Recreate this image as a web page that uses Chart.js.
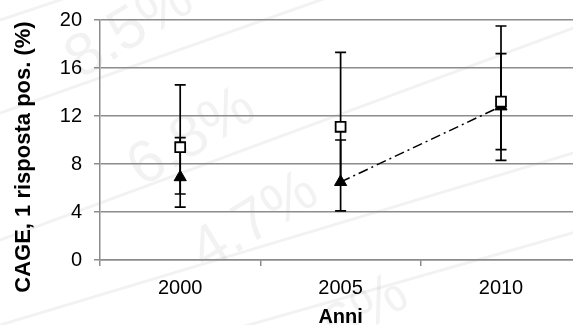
<!DOCTYPE html>
<html lang="it">
<head>
  <meta charset="UTF-8" />
  <title>CAGE, 1 risposta pos. (%)</title>
  <script src="https://cdn.jsdelivr.net/npm/chart.js"></script>
  <style>
    html, body { margin: 0; padding: 0; background: #fff; overflow: hidden; }
    #wrap { width: 573px; height: 325px; overflow: hidden; }
  </style>
</head>
<body>
  <div id="wrap"><canvas id="chart" width="590" height="325"></canvas></div>

  <script>
    // dati
    const anni = ['2000', '2005', '2010'];
    const quadrati = [9.4, 11.1, 13.2];
    const quadratiMin = [4.4, 4.1, 8.3];
    const quadratiMax = [14.6, 17.3, 19.5];
    const triangoli = [6.9, 6.5, 12.8];
    const triangoliMin = [5.5, null, 9.2];
    const triangoliMax = [10.2, 10.0, 17.2];
    const yMin = 0, yMax = 20, yStep = 4;
    const titoloY = 'CAGE, 1 risposta pos. (%)';
    const titoloX = 'Anni';
    const filigrana = ['8.5%', '6.8%', '4.7%', '6.6%'];

    const FONT = '"Liberation Sans", Arial, sans-serif';

    // sfondo con la filigrana sbiadita
    const sfondo = {
      id: 'sfondo',
      beforeDraw(chart) {
        const ctx = chart.ctx;
        ctx.save();
        ctx.fillStyle = '#fff';
        ctx.fillRect(0, 0, chart.width, chart.height);
        ctx.strokeStyle = 'rgba(0,0,0,0.05)';
        ctx.lineWidth = 3;
        [[0, 113, 590, -95], [0, 240, 590, 22], [0, 325, 590, 148], [238, 328, 590, 228], [0, 20, 300, -80]].forEach(l => {
          ctx.beginPath(); ctx.moveTo(l[0], l[1]); ctx.lineTo(l[2], l[3]); ctx.stroke();
        });
        ctx.fillStyle = 'rgba(0,0,0,0.05)';
        ctx.font = '60px ' + FONT;
        ctx.textAlign = 'center';
        ctx.textBaseline = 'middle';
        [[130, 30], [192, 138], [255, 222], [345, 325]].forEach((p, i) => {
          ctx.save();
          ctx.translate(p[0], p[1]);
          ctx.rotate(-0.55);
          ctx.fillText(filigrana[i], 0, 0);
          ctx.restore();
        });
        ctx.restore();
      }
    };

    // barre di errore sotto i marcatori
    const barreErrore = {
      id: 'barreErrore',
      beforeDatasetsDraw(chart) {
        const { ctx, scales: { x, y } } = chart;
        const limiti = [[quadratiMin, quadratiMax], [triangoliMin, triangoliMax]];
        ctx.save();
        ctx.strokeStyle = '#000';
        ctx.lineWidth = 1.7;
        limiti.forEach(([lo, hi], d) => {
          chart.data.datasets[d].data.forEach((v, i) => {
            const px = x.getPixelForValue(i);
            const pv = y.getPixelForValue(v);
            [lo[i], hi[i]].forEach(e => {
              if (e == null) return;
              const pe = y.getPixelForValue(e);
              ctx.beginPath();
              ctx.moveTo(px, pv); ctx.lineTo(px, pe);
              ctx.moveTo(px - 5.5, pe); ctx.lineTo(px + 5.5, pe);
              ctx.stroke();
            });
          });
        });
        ctx.restore();
      }
    };

    // titolo asse y (centrato sull'immagine come nell'originale)
    const titoloAsseY = {
      id: 'titoloAsseY',
      afterDraw(chart) {
        const ctx = chart.ctx;
        ctx.save();
        ctx.translate(24, 157);
        ctx.rotate(-Math.PI / 2);
        ctx.font = 'bold 22px ' + FONT;
        ctx.fillStyle = '#000';
        ctx.textAlign = 'center';
        ctx.textBaseline = 'middle';
        ctx.fillText(titoloY, 0, 0);
        ctx.restore();
      }
    };

    new Chart(document.getElementById('chart'), {
      type: 'line',
      data: {
        labels: anni,
        datasets: [
          {
            label: 'quadrati',
            data: quadrati,
            showLine: false,
            pointStyle: 'rect',
            pointRadius: 7,
            pointBorderWidth: 1.8,
            pointBackgroundColor: '#fff',
            pointBorderColor: '#000'
          },
          {
            label: 'triangoli',
            data: triangoli,
            borderColor: '#000',
            borderWidth: 1.5,
            borderDash: [10, 4, 2, 4],
            segment: { borderColor: c => c.p0DataIndex === 0 ? 'rgba(0,0,0,0)' : '#000' },
            pointStyle: 'triangle',
            pointRadius: 7,
            pointBorderWidth: 1,
            pointBackgroundColor: '#000',
            pointBorderColor: '#000'
          }
        ]
      },
      options: {
        responsive: false,
        animation: false,
        layout: { padding: { top: 20, right: 7, left: 0, bottom: 0 } },
        plugins: { legend: { display: false }, tooltip: { enabled: false } },
        scales: {
          x: {
            type: 'category',
            offset: true,
            afterFit: s => { s.height = 65; },
            grid: { offset: true, drawOnChartArea: false, drawTicks: true, tickLength: 6, color: '#8c8c8c', lineWidth: 1.5 },
            border: { color: '#8c8c8c', width: 1.5 },
            ticks: { color: '#000', font: { family: FONT, size: 20 }, padding: 10 },
            title: { display: true, text: titoloX, color: '#000', font: { family: FONT, size: 20, weight: 'bold', lineHeight: 0.8 }, padding: 0 }
          },
          y: {
            min: yMin,
            max: yMax,
            afterFit: s => { s.width = 100; },
            grid: { color: '#8c8c8c', lineWidth: 1.5, tickLength: 6 },
            border: { color: '#8c8c8c', width: 1.5 },
            ticks: { stepSize: yStep, color: '#000', font: { family: FONT, size: 20, lineHeight: 0.8 }, padding: 12 }
          }
        }
      },
      plugins: [sfondo, barreErrore, titoloAsseY]
    });
  </script>
</body>
</html>
